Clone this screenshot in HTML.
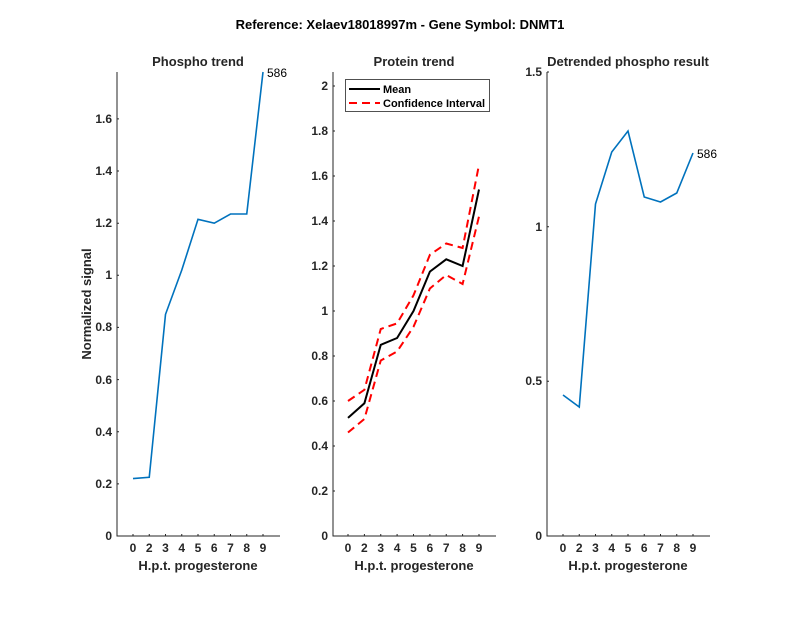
<!DOCTYPE html>
<html><head><meta charset="utf-8"><style>body{margin:0;background:#fff}svg{display:block}</style></head>
<body>
<svg width="800" height="618" xmlns="http://www.w3.org/2000/svg" font-family="Liberation Sans, sans-serif" font-weight="bold" fill="#262626">
<rect width="800" height="618" fill="#fff"/>
<text x="400" y="29" text-anchor="middle" font-size="13" fill="#000">Reference:  Xelaev18018997m - Gene Symbol:  DNMT1</text>
<g stroke="#262626" stroke-width="1" fill="none">
<path d="M117 72V536H280"/>
<path d="M333 72V536H496"/>
<path d="M547 72V536H710"/>
<path d="M117 483.9h2M117 431.7h2M117 379.6h2M117 327.4h2M117 275.3h2M117 223.2h2M117 171h2M117 118.9h2"/>
<path d="M133 536v-2M149.25 536v-2M165.5 536v-2M181.75 536v-2M198 536v-2M214.25 536v-2M230.5 536v-2M246.75 536v-2M263 536v-2"/>
<path d="M333 491h2M333 446h2M333 401h2M333 356h2M333 311h2M333 266h2M333 221h2M333 176h2M333 131h2M333 86h2"/>
<path d="M348 536v-2M364.4 536v-2M380.75 536v-2M397.1 536v-2M413.5 536v-2M429.9 536v-2M446.25 536v-2M462.6 536v-2M479 536v-2"/>
<path d="M547 381.3h2M547 226.7h2M547 72h2"/>
<path d="M563 536v-2M579.25 536v-2M595.5 536v-2M611.75 536v-2M628 536v-2M644.25 536v-2M660.5 536v-2M676.75 536v-2M693 536v-2"/>
</g>
<g font-size="12" text-anchor="end">
<text x="112" y="540">0</text><text x="112" y="488">0.2</text><text x="112" y="436">0.4</text><text x="112" y="384">0.6</text><text x="112" y="331">0.8</text><text x="112" y="279">1</text><text x="112" y="227">1.2</text><text x="112" y="175">1.4</text><text x="112" y="123">1.6</text>
<text x="328" y="540">0</text><text x="328" y="495">0.2</text><text x="328" y="450">0.4</text><text x="328" y="405">0.6</text><text x="328" y="360">0.8</text><text x="328" y="315">1</text><text x="328" y="270">1.2</text><text x="328" y="225">1.4</text><text x="328" y="180">1.6</text><text x="328" y="135">1.8</text><text x="328" y="90">2</text>
<text x="542" y="540">0</text><text x="542" y="385">0.5</text><text x="542" y="231">1</text><text x="542" y="76">1.5</text>
</g>
<g font-size="12" text-anchor="middle">
<text x="133" y="552">0</text><text x="149.25" y="552">2</text><text x="165.5" y="552">3</text><text x="181.75" y="552">4</text><text x="198" y="552">5</text><text x="214.25" y="552">6</text><text x="230.5" y="552">7</text><text x="246.75" y="552">8</text><text x="263" y="552">9</text>
<text x="348" y="552">0</text><text x="364.4" y="552">2</text><text x="380.75" y="552">3</text><text x="397.1" y="552">4</text><text x="413.5" y="552">5</text><text x="429.9" y="552">6</text><text x="446.25" y="552">7</text><text x="462.6" y="552">8</text><text x="479" y="552">9</text>
<text x="563" y="552">0</text><text x="579.25" y="552">2</text><text x="595.5" y="552">3</text><text x="611.75" y="552">4</text><text x="628" y="552">5</text><text x="644.25" y="552">6</text><text x="660.5" y="552">7</text><text x="676.75" y="552">8</text><text x="693" y="552">9</text>
</g>
<g font-size="13" text-anchor="middle">
<text x="198" y="570">H.p.t. progesterone</text>
<text x="414" y="570">H.p.t. progesterone</text>
<text x="628" y="570">H.p.t. progesterone</text>
<text x="198" y="66">Phospho trend</text>
<text x="414" y="66">Protein trend</text>
<text x="628" y="66">Detrended phospho result</text>
<text transform="translate(91 304) rotate(-90)">Normalized signal</text>
</g>
<g fill="none" stroke-width="1.6">
<polyline stroke="#0072BD" points="133,478.6 149.25,477.3 165.5,314.4 181.75,270.1 198,219.3 214.25,223.2 230.5,214 246.75,214 263,72"/>
<polyline stroke="#0072BD" points="563,395 579.25,407 595.5,204 611.75,152 628,131 644.25,197 660.5,202 676.75,193 693,153"/>
<polyline stroke="#000" stroke-width="2" points="348,417.9 364.4,403.3 380.75,344.8 397.1,338 413.5,311 429.9,271.6 446.25,259.3 462.6,266 479,189.5"/>
<polyline stroke="#f00" stroke-width="2" stroke-dasharray="8,5" points="348,401 364.4,389.8 380.75,329 397.1,323.4 413.5,295.3 429.9,254.8 446.25,243.5 462.6,248 479,164.8"/>
<polyline stroke="#f00" stroke-width="2" stroke-dasharray="8,5" points="348,432.5 364.4,419 380.75,360.5 397.1,351.5 413.5,326.8 429.9,288.5 446.25,275 462.6,284 479,216.5"/>
</g>
<g font-size="12" font-weight="normal" fill="#000">
<text x="267" y="77">586</text>
<text x="697" y="158">586</text>
</g>
<rect x="345.5" y="79.5" width="144" height="32" fill="#fff" stroke="#262626" stroke-width="0.8"/>
<line x1="349" y1="89" x2="380" y2="89" stroke="#000" stroke-width="2"/>
<line x1="349" y1="103" x2="380" y2="103" stroke="#f00" stroke-width="2" stroke-dasharray="8,5"/>
<g font-size="11" fill="#000"><text x="383" y="93">Mean</text><text x="383" y="107">Confidence Interval</text></g>
</svg>
</body></html>
